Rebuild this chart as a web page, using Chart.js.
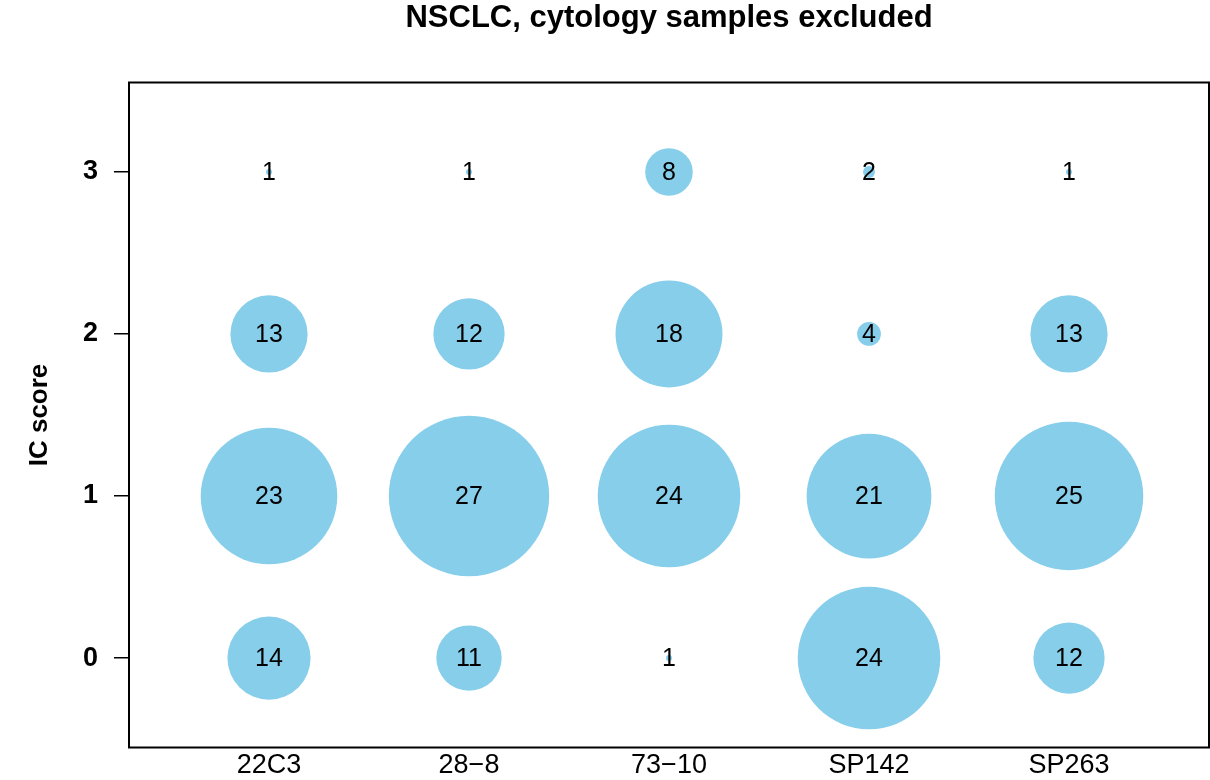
<!DOCTYPE html>
<html><head><meta charset="utf-8">
<script src="https://cdn.jsdelivr.net/npm/chart.js@4.4.1/dist/chart.umd.min.js"></script>
<style>html,body{margin:0;padding:0;background:#fff}canvas{display:block}</style>
</head><body>
<canvas id="c" width="1210" height="780"></canvas>
<script>
// ---- data ----
const categories = ['22C3', '28\u22128', '73\u221210', 'SP142', 'SP263'];
const icScores = [0, 1, 2, 3];
// counts per antibody, indexed by IC score 0..3
const counts22C3  = [14, 23, 13, 1];
const counts288   = [11, 27, 12, 1];
const counts7310  = [1, 24, 18, 8];
const countsSP142 = [24, 21, 4, 2];
const countsSP263 = [12, 25, 13, 1];
const allCounts = [counts22C3, counts288, counts7310, countsSP142, countsSP263];

const titleText = 'NSCLC, cytology samples excluded';
const yTitle = 'IC score';

// ---- style ----
const FONT = "'Liberation Sans', Arial, Helvetica, sans-serif";
const BUBBLE = '#87CEEB';
const PX_PER_COUNT = 2.97;

const datasets = categories.map((cat, i) => ({
  label: cat,
  data: icScores.map((s, j) => ({ x: i + 1, y: s, r: allCounts[i][j] * PX_PER_COUNT, n: allCounts[i][j] })),
  backgroundColor: BUBBLE,
  borderWidth: 0,
  hoverRadius: 0,
  hoverBorderWidth: 0,
  clip: false
}));

const labelPlugin = {
  id: 'bubbleLabels',
  afterDatasetsDraw(chart) {
    const ctx = chart.ctx;
    ctx.save();
    ctx.font = '25px ' + FONT;
    ctx.fillStyle = '#000';
    ctx.textAlign = 'center';
    ctx.textBaseline = 'middle';
    chart.data.datasets.forEach((ds, di) => {
      const meta = chart.getDatasetMeta(di);
      meta.data.forEach((el, k) => {
        ctx.fillText(String(ds.data[k].n), el.x, el.y + 1);
      });
    });
    ctx.restore();
  }
};

const framePlugin = {
  id: 'frame',
  afterDraw(chart) {
    const a = chart.chartArea;
    const ctx = chart.ctx;
    ctx.save();
    ctx.strokeStyle = '#000';
    ctx.lineWidth = 2;
    ctx.strokeRect(a.left, a.top, a.right - a.left, a.bottom - a.top);
    ctx.restore();
  }
};

new Chart(document.getElementById('c'), {
  type: 'bubble',
  data: { datasets },
  options: {
    responsive: false,
    animation: false,
    events: [],
    layout: { autoPadding: false, padding: { left: 0, right: 1, top: 0, bottom: 0 } },
    plugins: {
      legend: { display: false },
      tooltip: { enabled: false },
      title: {
        display: true,
        text: titleText,
        fullSize: false,
        color: '#000',
        font: { family: FONT, size: 31, weight: 'bold', lineHeight: 1.2 },
        padding: { top: 0, bottom: 45.3 }
      }
    },
    scales: {
      x: {
        type: 'linear',
        min: 0.3, max: 5.7,
        afterBuildTicks: (axis) => { axis.ticks = categories.map((c, i) => ({ value: i + 1 })); },
        afterFit: (s) => { s.height = 32.5; },
        ticks: {
          callback: (v) => categories[Math.round(v) - 1] || '',
          color: '#000',
          font: { family: FONT, size: 27 },
          padding: 2,
          maxRotation: 0,
          autoSkip: false
        },
        grid: { display: true, drawOnChartArea: false, drawTicks: false },
        border: { display: false }
      },
      y: {
        type: 'linear',
        min: -0.552, max: 3.552,
        afterBuildTicks: (axis) => { axis.ticks = icScores.map(v => ({ value: v })); },
        afterFit: (s) => { s.width = 129; },
        ticks: {
          callback: (v) => String(v),
          color: '#000',
          font: { family: FONT, size: 27, weight: 'bold' },
          padding: 16,
          autoSkip: false
        },
        grid: { drawOnChartArea: false, drawTicks: true, tickLength: 15, color: '#000', lineWidth: 1.5 },
        border: { display: false },
        title: {
          display: true,
          text: yTitle,
          color: '#000',
          font: { family: FONT, size: 26, weight: 'bold', lineHeight: 1.2 },
          padding: { top: 24, bottom: 0 }
        }
      }
    }
  },
  plugins: [labelPlugin, framePlugin]
});
</script>
</body></html>
